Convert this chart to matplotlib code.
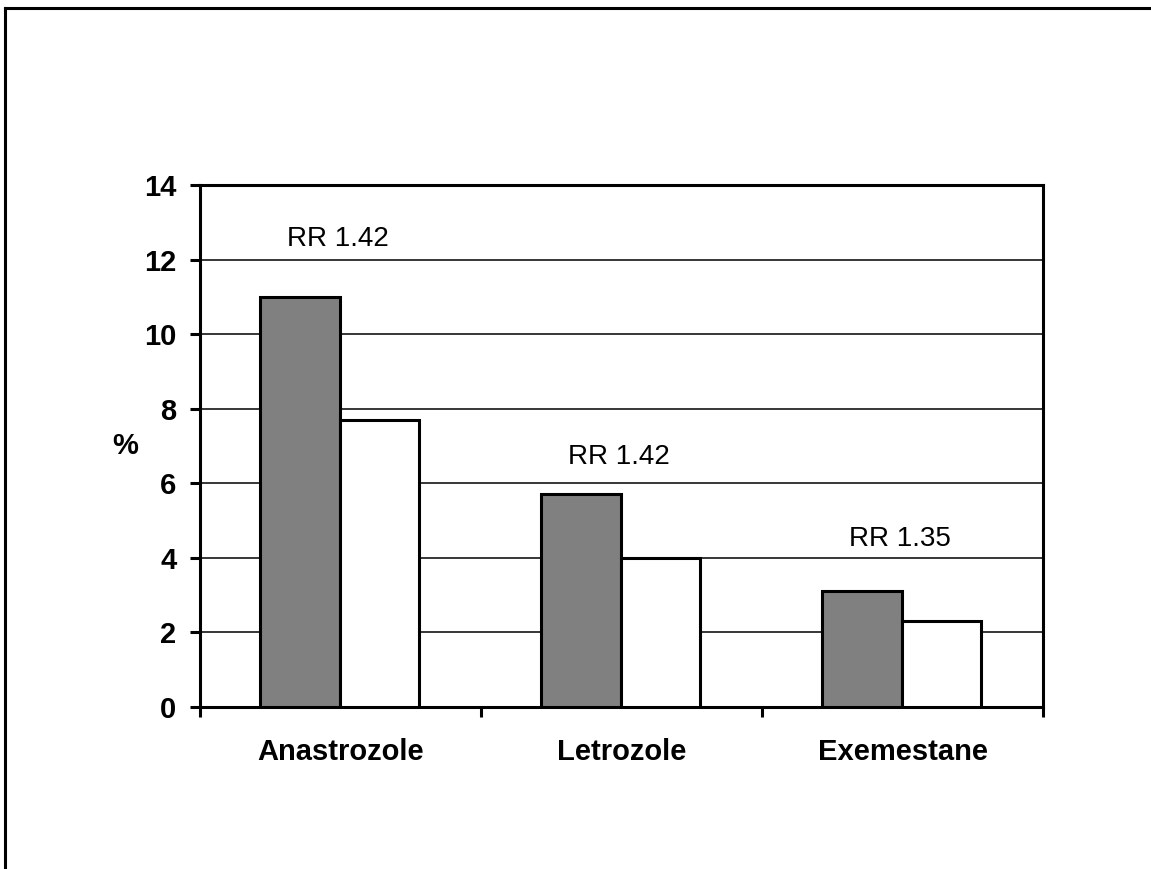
import numpy as np
import matplotlib
matplotlib.use('Agg')
import matplotlib.pyplot as plt
from matplotlib.lines import Line2D

plt.rcParams['font.family'] = ['Liberation Sans', 'DejaVu Sans']

drugs = ['Anastrozole', 'Letrozole', 'Exemestane']
grey_vals = [11.0, 5.7, 3.1]
white_vals = [7.7, 4.0, 2.3]
rr_labels = ['RR 1.42', 'RR 1.42', 'RR 1.35']

fig = plt.figure(figsize=(11.51, 8.69), dpi=100)
ax = fig.add_axes([0.1738, 0.1864, 0.7324, 0.6007])

x = np.arange(len(drugs))
w = 0.283
ax.bar(x - 0.145, grey_vals, w, color='#808080', edgecolor='black', linewidth=2.2, zorder=3)
ax.bar(x + 0.138, white_vals, w, color='white', edgecolor='black', linewidth=2.2, zorder=3)

# RR annotations above each pair
label_y = [12.55, 6.7, 4.5]
for xi, lab, ly in zip(x, rr_labels, label_y):
    ax.text(xi - 0.01, ly, lab, ha='center', va='center', fontsize=20)

ax.set_xlim(-0.5, 2.5)
ax.set_ylim(0, 14)
ax.set_yticks(np.arange(0, 15, 2))
ax.yaxis.grid(True, color='black', linewidth=1.1, zorder=0)
ax.set_axisbelow(True)

# category boundaries as ticks, names centred
ax.set_xticks([-0.5, 0.5, 1.5, 2.5])
ax.set_xticklabels([])
ax.set_xticks(x, minor=True)
ax.set_xticklabels(drugs, minor=True, fontsize=21, fontweight='bold')
ax.tick_params(axis='x', which='minor', length=0, pad=22)
ax.tick_params(axis='x', which='major', length=7, width=2.2, direction='out')
ax.tick_params(axis='y', length=7, width=2.2, direction='out', pad=10, labelsize=21)
for t in ax.get_yticklabels():
    t.set_fontweight('bold')

for s in ax.spines.values():
    s.set_linewidth(2.2)

ax.set_ylabel('%', rotation=0, fontsize=21, fontweight='bold', va='center', ha='center')
ax.yaxis.set_label_coords(-0.089, 0.5)

# frame lines at top and left of the picture
fig.add_artist(Line2D([0.0045, 0.0045], [0, 1 - 8 / 869], color='black', linewidth=2.2))
fig.add_artist(Line2D([0.0045, 1], [1 - 8 / 869, 1 - 8 / 869], color='black', linewidth=2.2))

plt.savefig('out.png', dpi=100)
